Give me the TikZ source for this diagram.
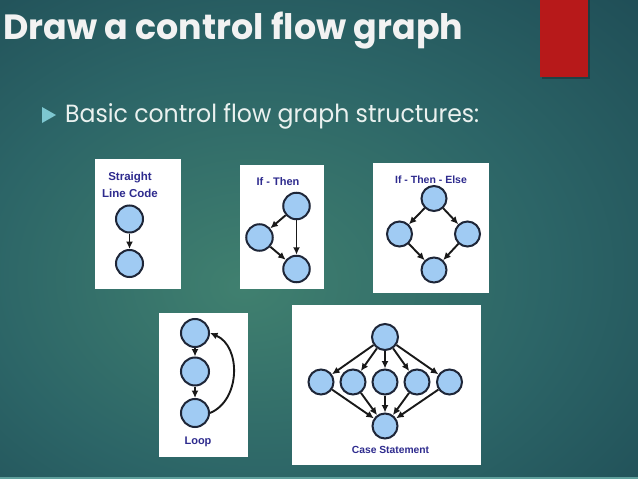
\documentclass[tikz,border=0pt]{standalone}
\usepackage{fontspec}
\setmainfont{Liberation Sans}
\newfontfamily\titlefont{Poppins}
\usetikzlibrary{arrows.meta}
\definecolor{bgA}{HTML}{40806F}
\definecolor{bgB}{HTML}{2C6567}
\definecolor{bgC}{HTML}{18404D}
\definecolor{titlec}{HTML}{F2F2F2}
\definecolor{subc}{HTML}{EAF1EF}
\definecolor{bulletc}{HTML}{7DC7D0}
\definecolor{redc}{HTML}{B7191A}
\definecolor{lblc}{HTML}{2E2B8E}
\definecolor{cfill}{HTML}{A0CBF3}
\definecolor{cdraw}{HTML}{1E2638}
\definecolor{stripc}{HTML}{5FA09C}
\pgfdeclareradialshading{slidebg}{\pgfpoint{-6bp}{-5bp}}{color(0bp)=(bgA); color(22bp)=(bgB); color(50bp)=(bgC); color(75bp)=(bgC)}
\begin{document}
\begin{tikzpicture}[x=1pt,y=-1pt,
  cn/.style={circle, draw=cdraw, fill=cfill, line width=2pt, inner sep=0pt, minimum size=#1},
  cn/.default=26pt,
  lbl/.style={font=\bfseries\fontsize{#1}{#1}\selectfont, text=lblc, inner sep=0pt},
  lbl/.default=11,
  arr/.style={-{Latex[length=7.5pt,width=7pt]}, line width=1.9pt, draw=black!90},
  panel/.style={fill=white}]
\useasboundingbox (0,0) rectangle (638,479);
\shade[shading=slidebg] (0,0) rectangle (638,479);
\fill[stripc] (0,476.5) rectangle (638,479);
% red tab
\fill[black,opacity=0.25] (541.5,0) rectangle (589.5,78.5);
\fill[redc] (540,0) rectangle (588,77);
% title
\node[anchor=base west, inner sep=0pt, text=titlec] (title) at (3,39)
  {\resizebox{460pt}{27.5pt}{\titlefont\bfseries Draw a control flow graph}};
\fill[bulletc] (42,107) -- (56,115) -- (42,123) -- cycle;
\node[anchor=base west, inner sep=0pt, text=subc] (sub) at (65,122)
  {\resizebox{414pt}{19pt}{\titlefont Basic control flow graph structures:}};

% Straight line code
\fill[panel] (95,159) rectangle (181,289);
\node[lbl=11.5] (t1a) at (130,178) {Straight};
\node[lbl=11.5] (t1b) at (130,193) {Line Code};
\node[cn=27pt] (s1) at (129.5,219) {};
\node[cn=27pt] (s2) at (129.5,263.5) {};
\draw[arr] (s1) -- (s2);

% If - Then
\fill[panel] (240,165) rectangle (324,289);
\node[lbl=11] (t2) at (278,182) {If - Then};
\node[cn=26.5pt] (ia) at (296.5,206) {};
\node[cn=26.5pt] (ib) at (259.5,237.5) {};
\node[cn=26.5pt] (ic) at (296.5,269) {};
\draw[arr] (ia) -- (ib);
\draw[arr] (ia) -- (ic);
\draw[arr] (ib) -- (ic);

% If - Then - Else
\fill[panel] (373,163) rectangle (489,293);
\node[lbl=10.5] (t3) at (431,180) {If - Then - Else};
\node[cn=25pt] (ea) at (434,198.5) {};
\node[cn=25pt] (eb) at (399.5,234) {};
\node[cn=25pt] (ec) at (467.5,234) {};
\node[cn=25pt] (ed) at (434,270) {};
\draw[arr] (ea) -- (eb);
\draw[arr] (ea) -- (ec);
\draw[arr] (eb) -- (ed);
\draw[arr] (ec) -- (ed);

% Loop
\fill[panel] (159,313) rectangle (248,457);
\node[cn=28pt] (la) at (195,333) {};
\node[cn=28pt] (lb) at (195,371.5) {};
\node[cn=28pt] (lc) at (195,413) {};
\draw[arr] (la) -- (lb);
\draw[arr] (lb) -- (lc);
\draw[arr] (lc.east) .. controls (241,400) and (241,346) .. (la.east);
\node[lbl=11] (t4) at (198,442) {Loop};

% Case statement
\fill[panel] (292,305) rectangle (481,465);
\node[cn=26pt] (ct) at (385,337) {};
\node[cn=25pt] (c1) at (321,382) {};
\node[cn=25pt] (c2) at (353,382) {};
\node[cn=25pt] (c3) at (385,382) {};
\node[cn=25pt] (c4) at (417,382) {};
\node[cn=25pt] (c5) at (449.5,382) {};
\node[cn=25pt] (cb) at (385,426) {};
\foreach \m in {c1,c2,c3,c4,c5} {
  \draw[arr] (ct) -- (\m);
  \draw[arr] (\m) -- (cb);
}
\node[lbl=10.3] (t5) at (390.5,450) {Case Statement};
\end{tikzpicture}
\end{document}
